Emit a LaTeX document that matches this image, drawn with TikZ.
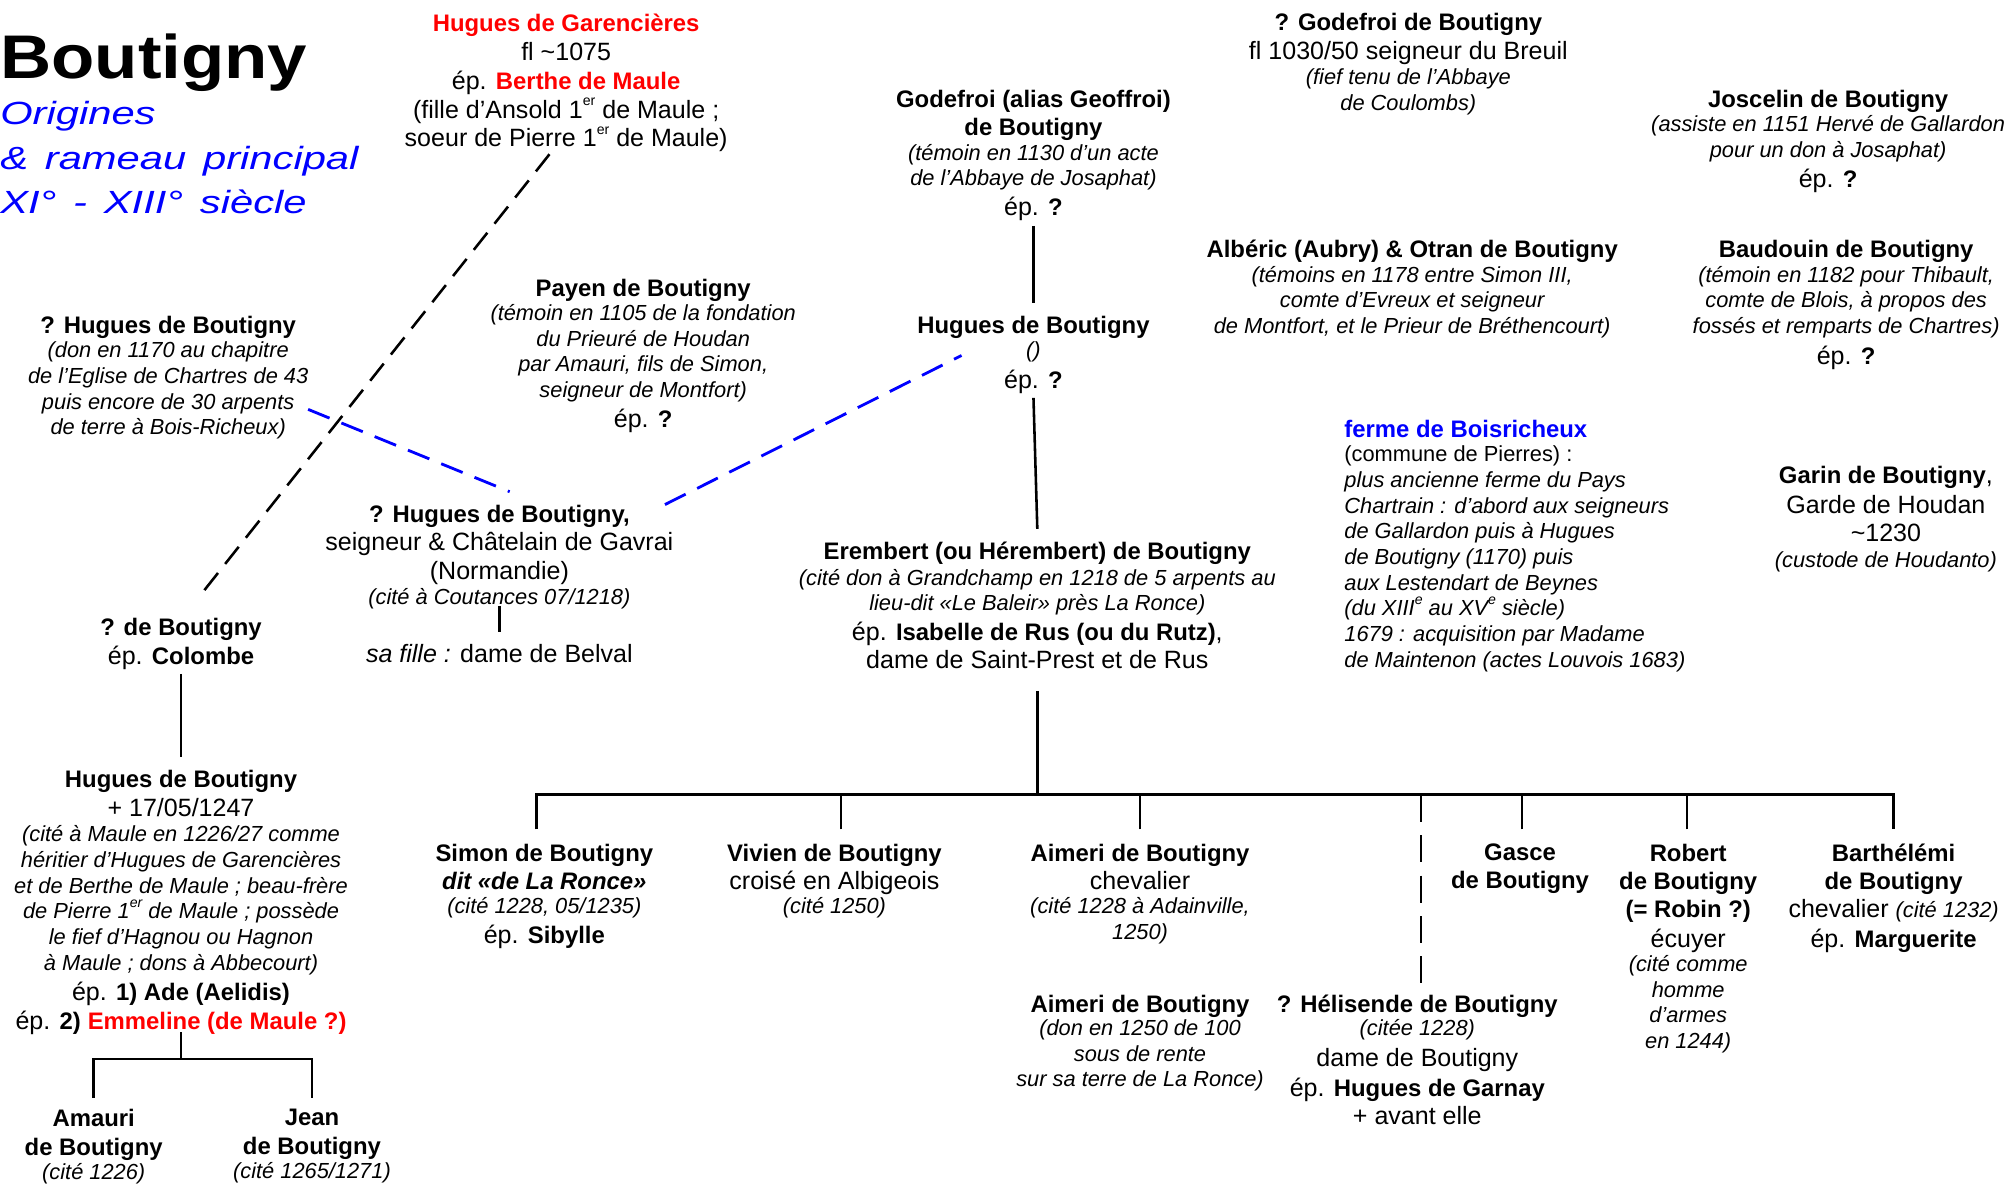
\documentclass[tikz,border=0pt]{standalone}
\usepackage{fontspec}
\setmainfont{Liberation Sans}
\newfontfamily\titlefont[FakeStretch=1.15]{Liberation Sans}
\newfontfamily\subfont[FakeStretch=1.3,WordSpace=1.45]{Liberation Sans}
\definecolor{myred}{RGB}{255,0,0}
\definecolor{myblue}{RGB}{0,0,255}
\newcommand{\nmb}[1]{{\fontsize{18.6}{20}\selectfont\bfseries #1}}
\newcommand{\nti}[1]{{\fontsize{17}{20}\selectfont\itshape #1}}
\newcommand{\ssup}[1]{\smash{\raisebox{0.5em}{\fontsize{11}{11}\selectfont #1}}}
\begin{document}
\begin{tikzpicture}[x=1pt,y=-1pt,
  blk/.style={align=center, inner sep=0pt, anchor=north, font=\fontsize{19.5}{20}\selectfont,
    execute at begin node={\rule{0pt}{16pt}}, execute at end node={\rule[-5pt]{0pt}{5pt}}},
  ln/.style={line width=2pt},
  dsh/.style={line width=2pt, dash pattern=on 17pt off 9pt},
  bdsh/.style={line width=2.2pt, myblue, dash pattern=on 18pt off 10pt},
  hd/.style={line width=2pt, dash pattern=on 21pt off 10.5pt}]
\useasboundingbox (0,0) rectangle (1568,922);

% title
\node[anchor=base west, inner sep=0pt] (title) at (0,61) {\titlefont\fontsize{48}{50}\selectfont\bfseries Boutigny};
\node[anchor=north west, inner sep=0pt, align=left, text=myblue,
      font=\subfont\fontsize{25}{34.6}\selectfont\itshape] (sub) at (0,77)
  {\rule{0pt}{20pt}Origines\\ \& rameau principal\\ XI° - XIII° siècle};

% top row
\node[blk] (garenc) at (441,11) {{\color{myred}\nmb{Hugues de Garencières}}\\[2.6pt]
  fl \textasciitilde1075\\[2.2pt]
  ép. {\color{myred}\nmb{Berthe de Maule}}\\[2.6pt]
  (fille d’Ansold 1\ssup{er} de Maule ;\\[2.2pt]
  soeur de Pierre 1\ssup{er} de Maule)};

\node[blk] (godefroi) at (805,70) {\nmb{Godefroi (alias Geoffroi)}\\[2pt]
  \nmb{de Boutigny}\\[-1pt]
  \nti{(témoin en 1130 d’un acte}\\
  \nti{de l’Abbaye de Josaphat)}\\[3pt]
  ép. \nmb{?}};

\node[blk] (godB) at (1097,10) {\nmb{? Godefroi de Boutigny}\\[3pt]
  fl 1030/50 seigneur du Breuil\\[-1pt]
  \nti{(fief tenu de l’Abbaye}\\
  \nti{de Coulombs)}};

\node[blk] (joscelin) at (1424,70) {\nmb{Joscelin de Boutigny}\\[-1pt]
  \nti{(assiste en 1151 Hervé de Gallardon}\\
  \nti{pour un don à Josaphat)}\\[3pt]
  ép. \nmb{?}};

\node[blk] (alberic) at (1100,187) {\nmb{Albéric (Aubry) \& Otran de Boutigny}\\[-1pt]
  \nti{(témoins en 1178 entre Simon III,}\\
  \nti{comte d’Evreux et seigneur}\\
  \nti{de Montfort, et le Prieur de Bréthencourt)}};

\node[blk] (baudouin) at (1438,187) {\nmb{Baudouin de Boutigny}\\[-1pt]
  \nti{(témoin en 1182 pour Thibault,}\\
  \nti{comte de Blois, à propos des}\\
  \nti{fossés et remparts de Chartres)}\\[4pt]
  ép. \nmb{?}};

\node[blk] (huC) at (805,246) {\nmb{Hugues de Boutigny}\\[-1pt]
  \nti{()}\\[4pt]
  ép. \nmb{?}};

\node[blk] (payen) at (501,217) {\nmb{Payen de Boutigny}\\[-1pt]
  \nti{(témoin en 1105 de la fondation}\\
  \nti{du Prieuré de Houdan}\\
  \nti{par Amauri, fils de Simon,}\\
  \nti{seigneur de Montfort)}\\[3pt]
  ép. \nmb{?}};

\node[blk] (hugL) at (131,246) {\nmb{? Hugues de Boutigny}\\[-1pt]
  \nti{(don en 1170 au chapitre}\\
  \nti{de l’Eglise de Chartres de 43}\\
  \nti{puis encore de 30 arpents}\\
  \nti{de terre à Bois-Richeux)}};

\node[blk, anchor=north west, align=left] (ferme) at (1047,327) {{\color{myblue}\nmb{ferme de Boisricheux}}\\[-1pt]
  {\fontsize{17}{20}\selectfont (commune de Pierres) :}\\
  \nti{plus ancienne ferme du Pays}\\
  \nti{Chartrain : d’abord aux seigneurs}\\
  \nti{de Gallardon puis à Hugues}\\
  \nti{de Boutigny (1170) puis}\\
  \nti{aux Lestendart de Beynes}\\
  \nti{(du XIII\ssup{e} au XV\ssup{e} siècle)}\\
  \nti{1679 : acquisition par Madame}\\
  \nti{de Maintenon (actes Louvois 1683)}};

\node[blk] (garin) at (1469,363) {\nmb{Garin de Boutigny},\\[3pt]
  Garde de Houdan\\[2pt]
  \textasciitilde1230\\
  \nti{(custode de Houdanto)}};

\node[blk] (hugM) at (389,393) {\nmb{? Hugues de Boutigny,}\\[2pt]
  seigneur \& Châtelain de Gavrai\\[3pt]
  (Normandie)\\[-1pt]
  \nti{(cité à Coutances 07/1218)}};

\node[blk] (belval) at (389,500) {{\itshape sa fille :} dame de Belval};

\node[blk] (erem) at (808,422) {\nmb{Erembert (ou Hérembert) de Boutigny}\\
  \nti{(cité don à Grandchamp en 1218 de 5 arpents au}\\
  \nti{lieu-dit «Le Baleir» près La Ronce)}\\[3pt]
  ép. \nmb{Isabelle de Rus (ou du Rutz)},\\[2pt]
  dame de Saint-Prest et de Rus};

\node[blk] (deb) at (141,481) {\nmb{? de Boutigny}\\[3pt]
  ép. \nmb{Colombe}};

\node[blk] (hugLL) at (141,600) {\nmb{Hugues de Boutigny}\\[2pt]
  + 17/05/1247\\
  \nti{(cité à Maule en 1226/27 comme}\\
  \nti{héritier d’Hugues de Garencières}\\
  \nti{et de Berthe de Maule ; beau-frère}\\
  \nti{de Pierre 1\ssup{er} de Maule ; possède}\\
  \nti{le fief d’Hagnou ou Hagnon}\\
  \nti{à Maule ; dons à Abbecourt)}\\[4pt]
  ép. \nmb{1) Ade (Aelidis)}\\[2pt]
  ép. \nmb{2)} {\color{myred}\nmb{Emmeline (de Maule ?)}}};

\node[blk] (amauri) at (73,864) {\nmb{Amauri}\\[2pt]
  \nmb{de Boutigny}\\[-1pt]
  \nti{(cité 1226)}};
\node[blk] (jean) at (243,864) {\nmb{Jean}\\[2pt]
  \nmb{de Boutigny}\\[-1pt]
  \nti{(cité 1265/1271)}};

% children of Erembert
\node[blk] (simon) at (424,657) {\nmb{Simon de Boutigny}\\[2pt]
  {\fontsize{18.6}{20}\selectfont\bfseries\itshape dit «de La Ronce»}\\[-1pt]
  \nti{(cité 1228, 05/1235)}\\[3pt]
  ép. \nmb{Sibylle}};
\node[blk] (vivien) at (650,657) {\nmb{Vivien de Boutigny}\\[2pt]
  croisé en Albigeois\\[-1pt]
  \nti{(cité 1250)}};
\node[blk] (aimeri) at (888,657) {\nmb{Aimeri de Boutigny}\\[2pt]
  chevalier\\[-1pt]
  \nti{(cité 1228 à Adainville,}\\
  \nti{1250)}};
\node[blk] (gasce) at (1184,657) {\nmb{Gasce}\\[2pt]
  \nmb{de Boutigny}};
\node[blk] (robert) at (1315,657) {\nmb{Robert}\\[2pt]
  \nmb{de Boutigny}\\[2pt]
  \nmb{(= Robin ?)}\\[3pt]
  écuyer\\[-1pt]
  \nti{(cité comme}\\
  \nti{homme}\\
  \nti{d’armes}\\
  \nti{en 1244)}};
\node[blk] (barth) at (1475,657) {\nmb{Barthélémi}\\[2pt]
  \nmb{de Boutigny}\\[2pt]
  chevalier \nti{(cité 1232)}\\[3pt]
  ép. \nmb{Marguerite}};
\node[blk] (aimeri2) at (888,775) {\nmb{Aimeri de Boutigny}\\[-2pt]
  \nti{(don en 1250 de 100}\\
  \nti{sous de rente}\\
  \nti{sur sa terre de La Ronce)}};
\node[blk] (helis) at (1104,775) {\nmb{? Hélisende de Boutigny}\\[-2pt]
  \nti{(citée 1228)}\\[4pt]
  dame de Boutigny\\[3pt]
  ép. \nmb{Hugues de Garnay}\\[2pt]
  + avant elle};

% connectors
\draw[ln] ([yshift=-3pt]godefroi.south) -- ([yshift=10pt]huC.north);
\draw[ln] ([yshift=-2pt]huC.south) -- ([yshift=10pt]erem.north);
\coordinate (bj) at (808,619);
\draw[ln] ([yshift=-12pt]erem.south) -- (bj);
\draw[ln] ([xshift=-6pt,yshift=11pt]simon.north) |- (bj) -| ([yshift=11pt]barth.north);
\draw[ln] ([xshift=5pt,yshift=11pt]vivien.north) -- ++(0,-27);
\draw[ln] ([yshift=11pt]aimeri.north) -- ++(0,-27);
\draw[ln] ([xshift=1.5pt,yshift=11pt]gasce.north) -- ++(0,-27);
\draw[ln] ([xshift=-1pt,yshift=11pt]robert.north) -- ++(0,-27);
\draw[hd] ([xshift=3pt,yshift=156pt]helis.north) -- ([xshift=3pt,yshift=9pt]helis.north);

\draw[ln] ([yshift=4pt]hugM.south) -- ([yshift=8pt]belval.north);
\draw[ln] ([yshift=-2pt]deb.south) -- ([yshift=10pt]hugLL.north);
\draw[ln] ([yshift=3pt]hugLL.south) -- ++(0,21) coordinate (llj);
\draw[ln] ([yshift=9pt]amauri.north) |- (llj) -| ([yshift=9pt]jean.north);

\draw[dsh] ([xshift=-13pt,yshift=-0.5pt]garenc.south) -- ([xshift=14pt,yshift=16pt]deb.north);
\draw[bdsh] ([xshift=109pt,yshift=25pt]hugL.south) -- ([xshift=8pt,yshift=10pt]hugM.north);
\draw[bdsh] ([xshift=129pt,yshift=0pt]hugM.north) -- ([xshift=-56pt,yshift=31pt]huC.south);
\end{tikzpicture}
\end{document}
